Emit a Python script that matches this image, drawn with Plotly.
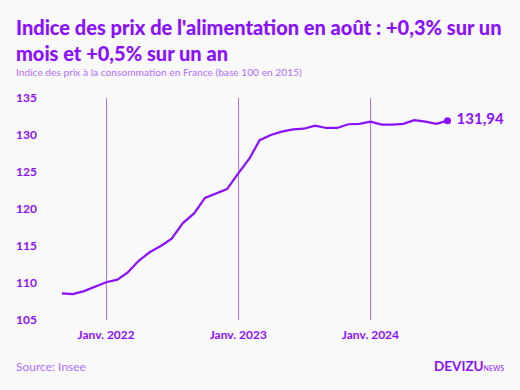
import plotly.graph_objects as go

months = [
    "2021-09-01", "2021-10-01", "2021-11-01", "2021-12-01",
    "2022-01-01", "2022-02-01", "2022-03-01", "2022-04-01", "2022-05-01", "2022-06-01",
    "2022-07-01", "2022-08-01", "2022-09-01", "2022-10-01", "2022-11-01", "2022-12-01",
    "2023-01-01", "2023-02-01", "2023-03-01", "2023-04-01", "2023-05-01", "2023-06-01",
    "2023-07-01", "2023-08-01", "2023-09-01", "2023-10-01", "2023-11-01", "2023-12-01",
    "2024-01-01", "2024-02-01", "2024-03-01", "2024-04-01", "2024-05-01", "2024-06-01",
    "2024-07-01", "2024-08-01",
]
index_values = [
    108.6, 108.5, 108.9, 109.5,
    110.1, 110.45, 111.4, 113.0, 114.15, 115.0,
    116.0, 118.1, 119.4, 121.5, 122.1, 122.7,
    124.8, 126.85, 129.3, 130.0, 130.45, 130.77,
    130.85, 131.26, 130.95, 130.95, 131.45, 131.5,
    131.8, 131.4, 131.4, 131.5, 132.0, 131.8,
    131.5, 131.94,
]
tick_dates = ["2022-01-01", "2023-01-01", "2024-01-01"]
tick_labels = ["Janv. 2022", "Janv. 2023", "Janv. 2024"]
y_ticks = [105, 110, 115, 120, 125, 130, 135]
last_label = "131,94"

PURPLE = "#8a10ff"
LIGHT = "#b46cff"
BG = "#f9f9fa"
FONT = "Lato"

L, R, T, B = 50, 50, 98, 70
PW, PH = 520 - L - R, 390 - T - B


def px_x(p):
    return (p - L) / PW


def px_y(p):
    return 1 - (p - T) / PH


fig = go.Figure()
fig.add_trace(go.Scatter(
    x=months, y=index_values, mode="lines",
    line=dict(color=PURPLE, width=2.2), hoverinfo="skip", showlegend=False,
))
fig.add_trace(go.Scatter(
    x=[months[-1]], y=[index_values[-1]], mode="markers+text",
    marker=dict(color=PURPLE, size=7),
    text=[" " + last_label], textposition="middle right",
    textfont=dict(family=FONT, size=15, color=PURPLE, weight="bold"),
    cliponaxis=False, showlegend=False, hoverinfo="skip",
))

fig.update_layout(
    width=520, height=390,
    paper_bgcolor=BG, plot_bgcolor=BG,
    margin=dict(l=L, r=R, t=T, b=B),
    font=dict(family=FONT, color=PURPLE),
    xaxis=dict(
        range=["2021-07-30", "2024-10-02"],
        tickmode="array", tickvals=tick_dates, ticktext=tick_labels,
        showgrid=True, gridcolor=LIGHT, gridwidth=1,
        zeroline=False, showline=False, ticks="",
        tickfont=dict(family=FONT, size=12, color=PURPLE, weight="bold"),
        ticklabelstandoff=6,
    ),
    yaxis=dict(
        range=[105, 135],
        tickmode="array", tickvals=y_ticks,
        showgrid=False, zeroline=False, showline=False, ticks="",
        tickfont=dict(family=FONT, size=12, color=PURPLE, weight="bold"),
        ticklabelstandoff=12,
    ),
    annotations=[
        dict(text="Indice des prix de l'alimentation en août : +0,3% sur un<br>mois et +0,5% sur un an",
             xref="paper", yref="paper", x=px_x(14), y=px_y(13),
             xanchor="left", yanchor="top", align="left", showarrow=False,
             font=dict(family=FONT, size=20, color=PURPLE, weight=900)),
        dict(text="Indice des prix à la consommation en France (base 100 en 2015)",
             xref="paper", yref="paper", x=px_x(14), y=px_y(64),
             xanchor="left", yanchor="top", align="left", showarrow=False,
             font=dict(family=FONT, size=10.2, color=LIGHT)),
        dict(text="Source: Insee",
             xref="paper", yref="paper", x=px_x(14), y=px_y(357),
             xanchor="left", yanchor="top", align="left", showarrow=False,
             font=dict(family=FONT, size=12, color=LIGHT)),
        dict(text="<b>DEVIZU</b><span style='font-size:7px'>NEWS</span>",
             xref="paper", yref="paper", x=px_x(506), y=px_y(356),
             xanchor="right", yanchor="top", align="right", showarrow=False,
             font=dict(family=FONT, size=13.5, color=PURPLE)),
    ],
)

fig.write_html("out.html", config={"displayModeBar": False},
               post_script="document.body.style.margin='0';")
